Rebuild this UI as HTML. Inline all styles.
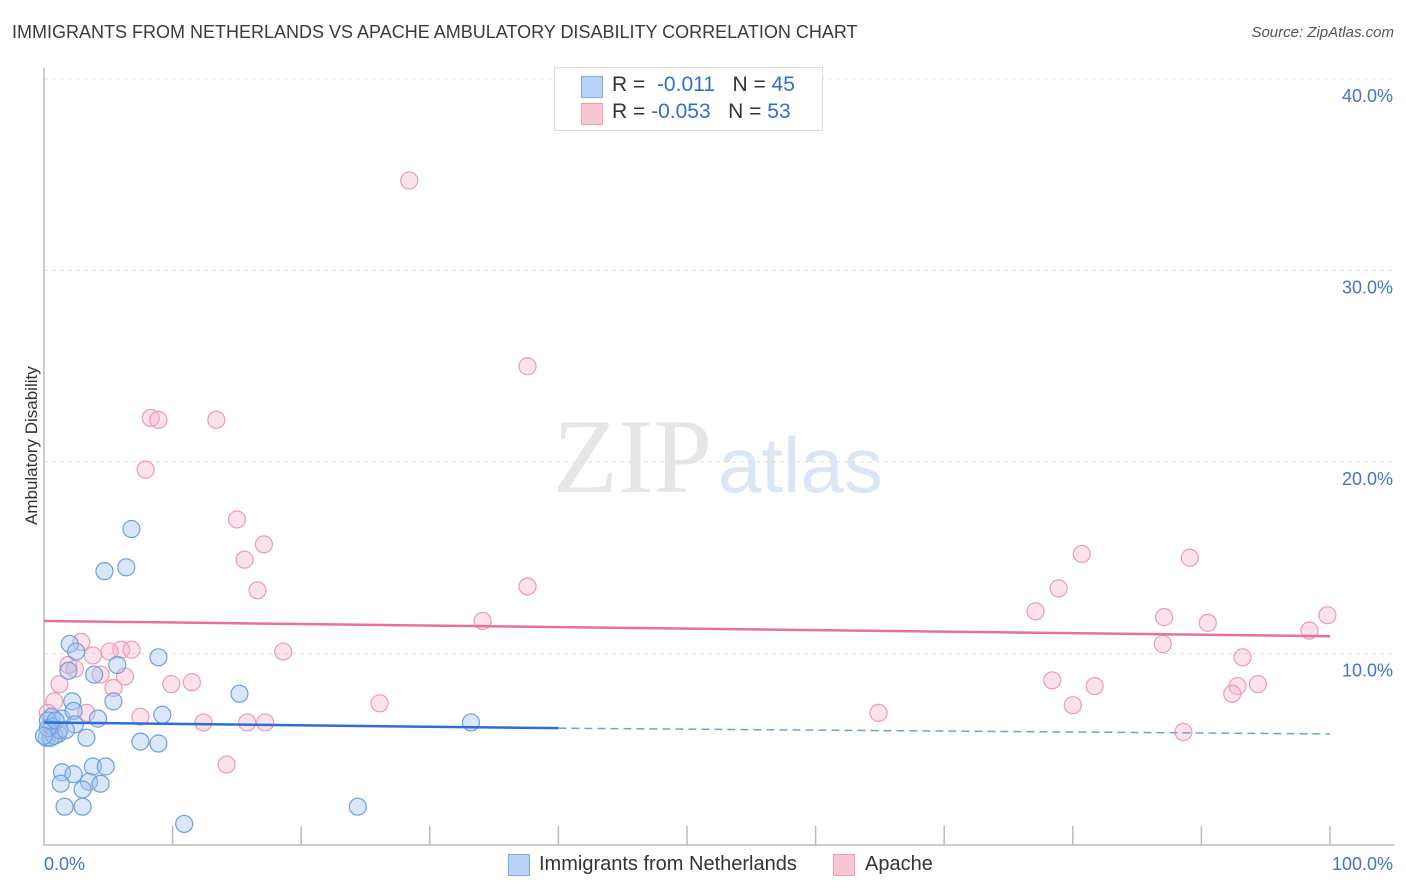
<!DOCTYPE html>
<html><head><meta charset="utf-8">
<style>
body{margin:0;background:#fff;font-family:"Liberation Sans",sans-serif;}
#wrap{position:relative;width:1406px;height:892px;overflow:hidden;}
.t{position:absolute;white-space:nowrap;}
</style></head>
<body>
<div id="wrap">
<div class="t" style="left:12px;top:22px;font-size:18px;color:#3a3a3a;">IMMIGRANTS FROM NETHERLANDS VS APACHE AMBULATORY DISABILITY CORRELATION CHART</div>
<div class="t" style="right:12px;top:24px;font-size:15px;color:#555;font-style:italic;">Source: ZipAtlas.com</div>
<div class="t" style="left:-38px;top:445px;font-size:17px;color:#333;transform:rotate(-90deg);transform-origin:center;width:140px;text-align:center;">Ambulatory Disability</div>
<svg id="svg" width="1406" height="892" style="position:absolute;left:0;top:0"></svg>
<div style="position:absolute;left:554px;top:67px;width:267px;height:62px;border:1px solid #ddd;background:#fff;">
 <div style="position:absolute;left:26px;top:8px;width:20px;height:20px;background:#b8d2f5;border:1px solid #7ea9e3;"></div>
 <div class="t" style="left:57px;top:5px;font-size:21px;color:#333;">R = &nbsp;<span style="color:#2f6fd0">-0.011</span>&nbsp;&nbsp;&nbsp;N = <span style="color:#2f6fd0">45</span></div>
 <div style="position:absolute;left:26px;top:35px;width:20px;height:20px;background:#f9c6d4;border:1px solid #ee9bb3;"></div>
 <div class="t" style="left:57px;top:32px;font-size:21px;color:#333;">R = <span style="color:#2f6fd0">-0.053</span>&nbsp;&nbsp;&nbsp;N = <span style="color:#2f6fd0">53</span></div>
</div>
<div style="position:absolute;left:508px;top:854px;">
 <div style="position:absolute;left:0;top:0;width:20px;height:20px;background:#b8d2f5;border:1px solid #7ea9e3;"></div>
 <div class="t" style="left:31px;top:-1px;font-size:20px;color:#333;">Immigrants from Netherlands</div>
</div>
<div style="position:absolute;left:833px;top:854px;">
 <div style="position:absolute;left:0;top:0;width:20px;height:20px;background:#f9c6d4;border:1px solid #ee9bb3;"></div>
 <div class="t" style="left:32px;top:-1px;font-size:20px;color:#333;">Apache</div>
</div>
</div>
<script>
const blueX=[6.8,6.4,4.7,2.0,2.5,5.7,8.9,3.9,1.9,5.4,2.2,15.2,9.2,4.2,0.6,1.4,2.3,0.3,2.4,1.1,3.3,0.2,0.5,0.8,7.5,8.9,1.4,2.3,3.8,4.8,1.3,3.5,4.4,3.0,1.6,3.0,24.4,10.9,33.2,0.6,1.2,0.3,0.9,1.7,0.0];
const blueY=[16.5,14.5,14.3,10.5,10.1,9.4,9.8,8.9,9.1,7.5,7.5,7.9,6.8,6.6,6.7,6.6,7.0,6.5,6.3,5.8,5.6,5.6,5.6,5.7,5.4,5.3,3.8,3.7,4.1,4.1,3.2,3.3,3.2,2.9,2.0,2.0,2.0,1.1,6.4,6.2,6.0,6.1,6.5,6.0,5.7];
const pinkX=[28.4,37.6,8.3,8.9,13.4,7.9,15.0,17.1,15.6,16.6,37.6,34.1,2.9,1.9,2.4,6.0,6.8,5.1,3.8,18.6,1.2,5.4,6.3,4.4,9.9,11.5,0.8,3.3,7.5,12.4,15.8,17.2,26.1,14.2,64.9,80.7,78.9,77.1,87.1,89.1,90.5,87.0,78.4,81.7,80.0,93.2,92.8,92.4,94.4,99.8,98.4,88.6,0.3];
const pinkY=[34.7,25.0,22.3,22.2,22.2,19.6,17.0,15.7,14.9,13.3,13.5,11.7,10.6,9.4,9.2,10.2,10.2,10.1,9.9,10.1,8.4,8.2,8.8,8.9,8.4,8.5,7.5,6.9,6.7,6.4,6.4,6.4,7.4,4.2,6.9,15.2,13.4,12.2,11.9,15.0,11.6,10.5,8.6,8.3,7.3,9.8,8.3,7.9,8.4,12.0,11.2,5.9,6.9];
const blueTrend=[6.4,6.1,5.8];
const pinkTrend=[11.7,10.9];
const yTicks=[10,20,30,40];
const yTickLabels=["10.0%","20.0%","30.0%","40.0%"];
const sx=v=>44+v*12.86, sy=v=>845-v*19.15;
const svg=document.getElementById('svg'),NS="http://www.w3.org/2000/svg";
function el(tag,a,parent){const e=document.createElementNS(NS,tag);for(const k in a)e.setAttribute(k,a[k]);(parent||svg).appendChild(e);return e;}
let w=el('text',{x:553,y:492,'font-size':106,'font-family':'Liberation Serif,serif',fill:'#e6e6e6'});w.textContent='ZIP';


let w2=el('text',{x:718,y:492,'font-size':78,'font-family':'Liberation Sans,sans-serif',fill:'#dbe6f5'});w2.textContent='atlas';


yTicks.forEach((t,i)=>{
 const g=el('line',{x1:44,x2:1394,y1:sy(t),y2:sy(t),stroke:'#ddd','stroke-dasharray':'4,4'});
 
 
 const tx=el('text',{x:1393,y:sy(t)+23,'text-anchor':'end','font-size':18,fill:'#3f74cf','font-family':'Liberation Sans,sans-serif'});
 tx.textContent=yTickLabels[i];
 
 
});
const ax=el('path',{d:'M44 68 V845 H1394',stroke:'#bbb',fill:'none','stroke-width':1.5});


for(let i=1;i<=10;i++){const tk=el('line',{x1:sx(i*10),x2:sx(i*10),y1:826,y2:845,stroke:'#bbb','stroke-width':1.5});
 
 }
const xl=el('text',{x:44,y:870,'font-size':18,fill:'#3f74cf','font-family':'Liberation Sans,sans-serif'});xl.textContent='0.0%';


const xr=el('text',{x:1393,y:870,'text-anchor':'end','font-size':18,fill:'#3f74cf','font-family':'Liberation Sans,sans-serif'});xr.textContent='100.0%';


pinkX.forEach((x,i)=>{const c=el('circle',{cx:sx(x),cy:sy(pinkY[i]),r:8.5,fill:'rgba(247,182,201,0.38)',stroke:'#ec9bb4','stroke-width':1.2});
 
 });
blueX.forEach((x,i)=>{const c=el('circle',{cx:sx(x),cy:sy(blueY[i]),r:8.5,fill:'rgba(160,195,240,0.4)',stroke:'#6f9fe0','stroke-width':1.2});
 
 });
const bl=el('line',{x1:sx(0),y1:sy(blueTrend[0]),x2:sx(40),y2:sy(blueTrend[1]),stroke:'#2b6fd4','stroke-width':2.5});


const bd=el('line',{x1:sx(40),y1:sy(blueTrend[1]),x2:sx(100),y2:sy(blueTrend[2]),stroke:'#6f9fe0','stroke-width':1.5,'stroke-dasharray':'8,5'});


const pl=el('line',{x1:sx(0),y1:sy(pinkTrend[0]),x2:sx(100),y2:sy(pinkTrend[1]),stroke:'#e8709a','stroke-width':2.5});


</script>
</body></html>
